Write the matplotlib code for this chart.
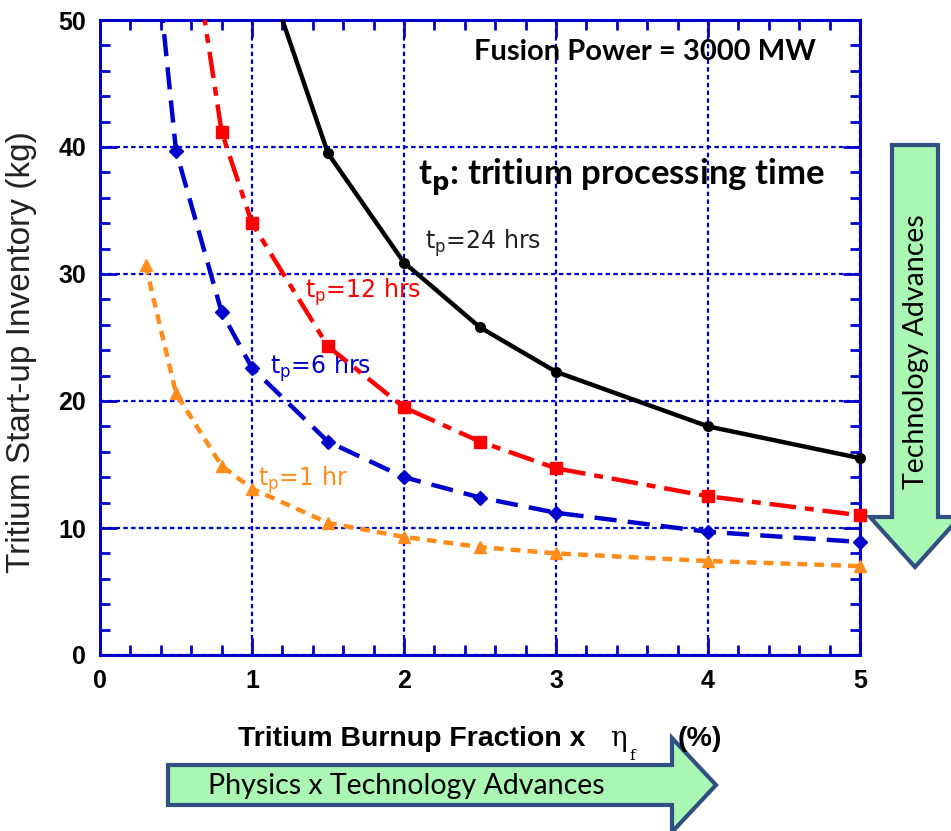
import numpy as np
import matplotlib
matplotlib.use("Agg")
import matplotlib.pyplot as plt
from matplotlib.patches import Polygon
from matplotlib.ticker import MultipleLocator

# burnup fraction x eta_f (%) and start-up inventory (kg) for each processing time
x_24 = [1.0, 1.5, 2.0, 2.5, 3.0, 4.0, 5.0]
y_24 = [57.0, 39.5, 30.9, 25.8, 22.3, 18.0, 15.5]

x_12 = [0.6, 0.8, 1.0, 1.5, 2.0, 2.5, 3.0, 4.0, 5.0]
y_12 = [57.0, 41.2, 34.0, 24.3, 19.5, 16.8, 14.7, 12.5, 11.0]

x_6 = [0.4, 0.5, 0.8, 1.0, 1.5, 2.0, 2.5, 3.0, 4.0, 5.0]
y_6 = [51.5, 39.7, 27.0, 22.6, 16.8, 14.0, 12.4, 11.2, 9.7, 8.9]

x_1 = [0.3, 0.5, 0.8, 1.0, 1.5, 2.0, 2.5, 3.0, 4.0, 5.0]
y_1 = [30.7, 20.6, 14.9, 13.1, 10.4, 9.3, 8.5, 8.0, 7.4, 7.0]

W, H = 951, 831
fig = plt.figure(figsize=(W / 100, H / 100), dpi=100)
ax = fig.add_axes([100 / W, 1 - 655 / H, 760 / W, 635 / H])

blue = "#0000cc"
orange = "#ff8c1a"
red = "#ff0000"

series = [
    (x_24, y_24, "black", "o", 7, "-"),
    (x_12, y_12, red, "s", 9, (0, (6, 2, 2, 2))),
    (x_6, y_6, blue, "D", 7, (0, (5, 2.5))),
    (x_1, y_1, orange, "^", 9, (0, (2.2, 1.6))),
]
for xs, ys, col, mk, ms, ls in series:
    xs = np.array(xs)
    ys = np.array(ys)
    ax.plot(xs, ys, color=col, lw=3.2, ls=ls, zorder=4)
    inside = ys <= 50
    ax.plot(xs[inside], ys[inside], color=col, ls="none", marker=mk, ms=ms,
            clip_on=False, zorder=5)

ax.set_xlim(0, 5)
ax.set_ylim(0, 50)
ax.xaxis.set_major_locator(MultipleLocator(1))
ax.xaxis.set_minor_locator(MultipleLocator(0.2))
ax.yaxis.set_major_locator(MultipleLocator(10))
ax.yaxis.set_minor_locator(MultipleLocator(2))
ax.tick_params(which="both", direction="in", top=True, right=True,
               color=blue, width=2)
ax.tick_params(which="major", length=12, pad=10)
ax.tick_params(which="minor", length=7)
for lab in ax.get_xticklabels() + ax.get_yticklabels():
    lab.set_fontfamily("Liberation Sans")
    lab.set_fontweight("bold")
    lab.set_fontsize(18)
for sp in ax.spines.values():
    sp.set_color(blue)
    sp.set_linewidth(2.2)
ax.grid(True, which="major", color=blue, ls=(0, (2, 1.5)), lw=1.6)

fig.text(22 / W, 1 - 352 / H, "Tritium Start-up Inventory (kg)", fontsize=24,
         family="Liberation Sans", rotation=90, ha="center", va="center",
         color="#222222")

# curve labels
lab_kw = dict(fontsize=17, va="center", family="DejaVu Sans")
ax.text(2.14, 32.4, r"t$_\mathregular{p}$=24 hrs", color="#222222", **lab_kw)
ax.text(1.35, 28.6, r"t$_\mathregular{p}$=12 hrs", color=red, **lab_kw)
ax.text(1.12, 22.6, r"t$_\mathregular{p}$=6 hrs", color=blue, **lab_kw)
ax.text(1.04, 13.8, r"t$_\mathregular{p}$=1 hr", color=orange, **lab_kw)

ax.text(3.585, 47.5, "Fusion Power = 3000 MW", fontsize=21, weight="bold",
        ha="center", va="center", family="Lato")
ax.text(2.09, 37.6, r"t$_\mathbf{p}$: tritium processing time", fontsize=25,
        weight="bold", ha="left", va="center", family="Lato")

# x axis label
fig.text(238 / W, 1 - 739 / H, "Tritium Burnup Fraction x", fontsize=20.5,
         weight="bold", family="Liberation Sans", va="center")
fig.text(610 / W, 1 - 739 / H, "η", fontsize=20,
         family="DejaVu Serif", va="center")
fig.text(629 / W, 1 - 756 / H, "f", fontsize=11,
         family="DejaVu Serif", va="center")
fig.text(678 / W, 1 - 739 / H, "(%)", fontsize=20.5, weight="bold",
         family="Liberation Sans", va="center")

# arrows
green = "#aaf7b4"
edge = "#2f5080"


def px(pts):
    return [(x / W, 1 - y / H) for x, y in pts]


h_arrow = px([(168, 765), (672, 765), (672, 738), (716, 785),
              (672, 832), (672, 805), (168, 805)])
fig.patches.append(Polygon(h_arrow, closed=True, facecolor=green,
                           edgecolor=edge, lw=3, transform=fig.transFigure))
fig.text(208 / W, 1 - 786 / H, "Physics x Technology Advances", fontsize=20.5,
         family="Lato", va="center")

v_arrow = px([(892, 145), (938, 145), (938, 517), (960, 517),
              (915, 567), (870, 517), (892, 517)])
fig.patches.append(Polygon(v_arrow, closed=True, facecolor=green,
                           edgecolor=edge, lw=3, transform=fig.transFigure))
fig.text(916 / W, 1 - 352 / H, "Technology Advances", fontsize=20.5,
         family="Lato", rotation=90, ha="center", va="center")

fig.savefig("out.png", dpi=100)
